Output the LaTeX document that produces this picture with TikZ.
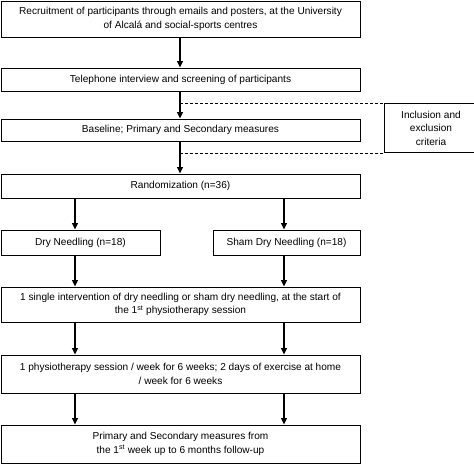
\documentclass[tikz,border=0pt]{standalone}
\usepackage{fontspec}
\setmainfont{Liberation Sans}
\usetikzlibrary{positioning,arrows.meta,calc}

\tikzset{
  box/.style={draw, line width=1pt, align=center, inner sep=0pt,
    font=\fontsize{10.1}{13.5}\selectfont},
  flow/.style={line width=1.3pt, -{Triangle[length=6.5pt,width=6pt]}},
  crit/.style={line width=0.9pt, dashed, dash pattern=on 3pt off 2pt}
}

\begin{document}
\begin{tikzpicture}
    [ x=1pt, y=-1pt
    ]
  \useasboundingbox (0,0) rectangle (474,464);
  % main column
  \node[box, minimum width=359pt, minimum height=36pt] (rec) at (180.5,19)
    {Recruitment of participants through emails and posters, at the University\\
     of Alcal\'a and social-sports centres};
  \node[box, minimum width=359pt, minimum height=23pt] (tel) at (180.5,79.5)
    {Telephone interview and screening of participants};
  \node[box, minimum width=359pt, minimum height=22pt] (base) at (180.5,130)
    {Baseline; Primary and Secondary measures};
  \node[box, minimum width=359pt, minimum height=24pt] (rand) at (180.5,186)
    {Randomization (n=36)};
  % the two arms
  \node[box, minimum width=159pt, minimum height=25pt] (dry) at (80.5,242.5)
    {Dry Needling (n=18)};
  \node[box, minimum width=147pt, minimum height=25pt] (sham) at (286.5,242.5)
    {Sham Dry Needling (n=18)};
  \node[box, minimum width=359pt, minimum height=35pt] (single) at (180.5,304.5)
    {1 single intervention of dry needling or sham dry needling, at the start of\\
     the 1\textsuperscript{st} physiotherapy session};
  \node[box, minimum width=359pt, minimum height=38pt] (weekly) at (180.5,374)
    {1 physiotherapy session / week for 6 weeks; 2 days of exercise at home\\
     / week for 6 weeks};
  \node[box, minimum width=359pt, minimum height=38pt] (follow) at (180.5,444)
    {Primary and Secondary measures from\\
     the 1\textsuperscript{st} week up to 6 months follow-up};
  % side box
  \node[box, minimum width=94pt, minimum height=49pt, anchor=north west] (incl) at (383.5,103)
    {Inclusion and\\ exclusion\\ criteria};

  \coordinate (trunk) at (180,0);
  \coordinate (lft) at (75,0);
  \coordinate (rgt) at (284,0);

  \draw[flow] (rec.south -| trunk) -- (tel.north -| trunk);
  \draw[flow] (tel.south -| trunk) -- (base.north -| trunk);
  \draw[flow] (base.south -| trunk) -- (rand.north -| trunk);
  \draw[crit] (incl.north west -| trunk) -- (incl.north west);
  \draw[crit] (incl.south west -| trunk) -- (incl.south west);

  \draw[flow] (rand.south -| lft) -- (dry.north -| lft);
  \draw[flow] (rand.south -| rgt) -- (sham.north -| rgt);
  \draw[flow] (dry.south -| lft) -- (single.north -| lft);
  \draw[flow] (sham.south -| rgt) -- (single.north -| rgt);
  \draw[flow] (single.south -| lft) -- (weekly.north -| lft);
  \draw[flow] (single.south -| rgt) -- (weekly.north -| rgt);
  \draw[flow] (weekly.south -| lft) -- (follow.north -| lft);
  \draw[flow] (weekly.south -| rgt) -- (follow.north -| rgt);
\end{tikzpicture}
\end{document}
